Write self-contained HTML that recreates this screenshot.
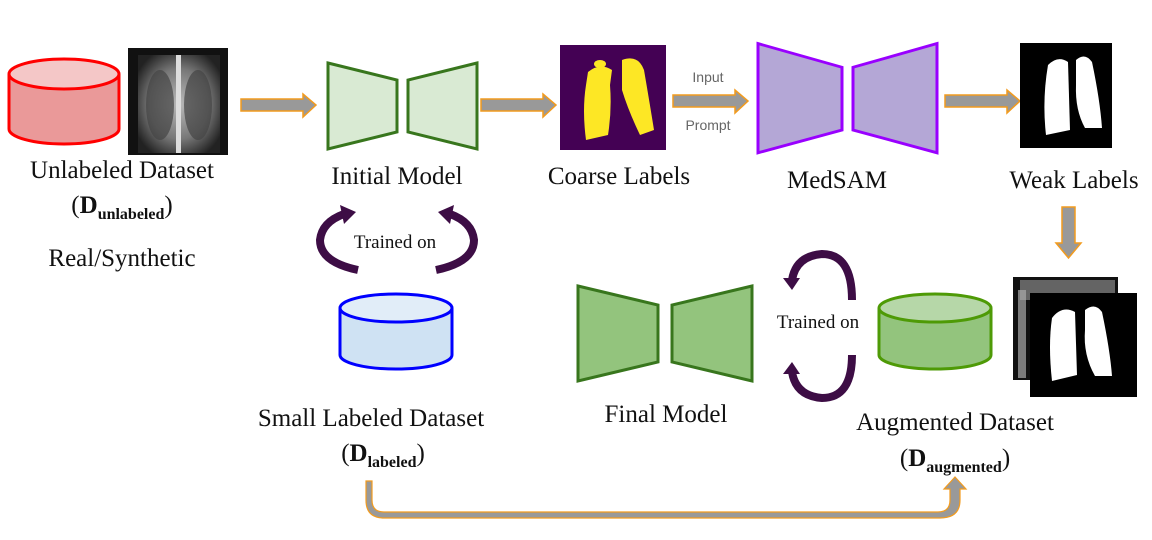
<!DOCTYPE html>
<html><head><meta charset="utf-8"><style>
html,body{margin:0;padding:0;background:#fff;}
svg{display:block;}
.t{font-family:"Liberation Serif",serif;font-size:25px;fill:#111;text-anchor:middle;}
.s{font-family:"Liberation Sans",sans-serif;font-size:14px;fill:#666;text-anchor:middle;}
.ts{font-family:"Liberation Serif",serif;font-size:19px;fill:#111;text-anchor:middle;}
</style></head><body>
<svg width="1152" height="540" viewBox="0 0 1152 540" xmlns="http://www.w3.org/2000/svg">
<defs>
<radialGradient id="xr" cx="50%" cy="50%" r="60%"><stop offset="0" stop-color="#bbb"/><stop offset="0.6" stop-color="#777"/><stop offset="1" stop-color="#222"/></radialGradient>
</defs>
<path d="M9 74 V129 A55 15 0 0 0 119 129 V74" fill="#ea9999" stroke="#f00" stroke-width="3"/>
<ellipse cx="64" cy="74" rx="55" ry="15" fill="#f4c7c7" stroke="#f00" stroke-width="3"/>
<rect x="128" y="48" width="100" height="107" fill="#111"/>
<rect x="138" y="55" width="82" height="98" fill="url(#xr)"/>
<ellipse cx="160" cy="105" rx="14" ry="35" fill="#444" opacity="0.7"/>
<ellipse cx="198" cy="105" rx="14" ry="35" fill="#444" opacity="0.7"/>
<rect x="176" y="55" width="5" height="98" fill="#ddd"/>
<g fill="#999" stroke="#f29b1e" stroke-width="1.5">
<path d="M241 99 H303 V94 L316 105 L303 117 V111 H241 Z"/>
<path d="M481 99 H543 V94 L556 105 L543 117 V111 H481 Z"/>
<path d="M673 95 H735 V90 L748 101 L735 113 V107 H673 Z"/>
<path d="M945 95 H1007 V90 L1020 101 L1007 113 V107 H945 Z"/>
<path d="M1062 207 H1075 V243 H1081 L1068.5 258 L1056 243 H1062 Z"/>
<path d="M372 481 V500 Q372 512 384 512 H938 Q950 512 950 500 V489 H944 L955 477 L966 489 H960 V500 Q960 518 940 518 H384 Q366 518 366 500 V481 Z" stroke-width="1.2"/>
</g>
<g fill="#d9ead3" stroke="#38761d" stroke-width="3">
<path d="M328 63 L397 80 V132 L328 149 Z"/>
<path d="M477 63 L408 80 V132 L477 149 Z"/>
</g>
<rect x="560" y="45" width="106" height="105" fill="#440154"/>
<path d="M588 72 Q600 62 612 70 L610 85 Q612 110 608 135 L586 140 Q582 110 586 85 Z" fill="#fde725"/>
<ellipse cx="600" cy="64" rx="6" ry="4" fill="#fde725"/>
<path d="M622 60 Q638 54 644 70 Q650 105 654 130 L640 135 Q628 110 622 90 Z" fill="#fde725"/>
<text class="s" x="708" y="82">Input</text>
<text class="s" x="708" y="130">Prompt</text>
<g fill="#b4a7d6" stroke="#9900ff" stroke-width="3">
<path d="M758 49 L842 74 V140 L758 164 Z" transform="translate(0,-3) scale(1,0.95)"/>
<path d="M937 49 L853 74 V140 L937 164 Z" transform="translate(0,-3) scale(1,0.95)"/>
</g>
<rect x="1020" y="43" width="92" height="105" fill="#000"/>
<path d="M1048 65 Q1058 55 1068 62 L1070 130 L1046 135 Q1042 100 1048 65 Z" fill="#fff"/>
<path d="M1076 60 Q1085 52 1092 62 Q1100 100 1102 128 L1085 128 Q1075 110 1076 85 Z" fill="#fff"/>
<text class="t" x="122" y="178">Unlabeled Dataset</text>
<text class="t" x="122" y="213">(<tspan font-weight="bold">D</tspan><tspan font-weight="bold" font-size="16" dy="6">unlabeled</tspan><tspan dy="-6">)</tspan></text>
<text class="t" x="122" y="266">Real/Synthetic</text>
<text class="t" x="397" y="184">Initial Model</text>
<text class="t" x="619" y="184">Coarse Labels</text>
<text class="t" x="837" y="188">MedSAM</text>
<text class="t" x="1074" y="188">Weak Labels</text>
<g fill="none" stroke="#3d0d45" stroke-width="8">
<path d="M358 270 Q320 262 320 240 Q322 222 344 214"/>
<path d="M436 270 Q474 262 474 240 Q472 222 450 214"/>
<path d="M852 300 Q852 254 822 254 Q796 256 792 280"/>
<path d="M852 355 Q852 398 822 398 Q796 396 792 372"/>
</g>
<g fill="#3d0d45">
<path d="M340 205 L356 212 L344 224 Z"/>
<path d="M454 205 L438 212 L450 224 Z"/>
<path d="M783 278 L800 278 L792 290 Z"/>
<path d="M783 374 L800 374 L792 362 Z"/>
</g>
<text class="ts" x="395" y="248">Trained on</text>
<text class="ts" x="818" y="328">Trained on</text>
<path d="M340 308 V355 A56 14 0 0 0 452 355 V308" fill="#cfe2f3" stroke="#0000ff" stroke-width="3"/>
<ellipse cx="396" cy="308" rx="56" ry="14" fill="#e1edf8" stroke="#0000ff" stroke-width="3"/>
<text class="t" x="371" y="426">Small Labeled Dataset</text>
<text class="t" x="383" y="461">(<tspan font-weight="bold">D</tspan><tspan font-weight="bold" font-size="16" dy="6">labeled</tspan><tspan dy="-6">)</tspan></text>
<g fill="#93c47d" stroke="#38761d" stroke-width="3">
<path d="M578 286 L658 305 V362 L578 381 Z"/>
<path d="M752 286 L672 305 V362 L752 381 Z"/>
</g>
<text class="t" x="666" y="422">Final Model</text>
<path d="M879 308 V355 A56 14 0 0 0 991 355 V308" fill="#93c47d" stroke="#4e9a06" stroke-width="3"/>
<ellipse cx="935" cy="308" rx="56" ry="14" fill="#b6d7a8" stroke="#4e9a06" stroke-width="3"/>
<rect x="1013" y="277" width="105" height="103" fill="#111"/>
<rect x="1020" y="280" width="95" height="20" fill="#888" opacity="0.7"/>
<rect x="1018" y="290" width="8" height="88" fill="#aaa" opacity="0.7"/>
<rect x="1030" y="293" width="107" height="104" fill="#000"/>
<path d="M1052 318 Q1062 305 1075 312 L1077 375 L1052 381 Q1048 345 1052 318 Z" fill="#fff"/>
<path d="M1085 310 Q1095 302 1102 312 Q1110 350 1112 376 L1095 376 Q1083 355 1085 330 Z" fill="#fff"/>
<text class="t" x="955" y="430">Augmented Dataset</text>
<text class="t" x="955" y="466">(<tspan font-weight="bold">D</tspan><tspan font-weight="bold" font-size="16" dy="6">augmented</tspan><tspan dy="-6">)</tspan></text>
</svg>
</body></html>
